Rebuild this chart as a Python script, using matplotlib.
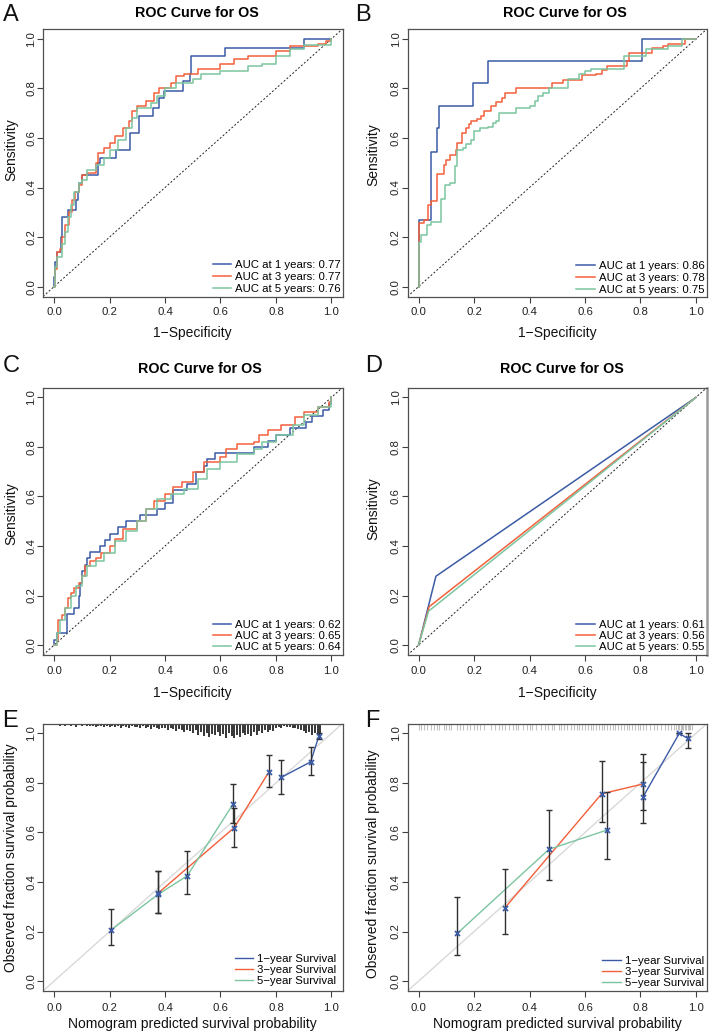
import matplotlib
matplotlib.use("Agg")
import matplotlib.pyplot as plt

plt.rcParams["font.family"] = ["Liberation Sans", "DejaVu Sans"]

BLUE = "#3b5ba5"
RED = "#f25f3a"
GREEN = "#7cc5a1"

tick_values = [0.0, 0.2, 0.4, 0.6, 0.8, 1.0]
tick_labels = ["0.0", "0.2", "0.4", "0.6", "0.8", "1.0"]

roc_names = ["AUC at 1 years", "AUC at 3 years", "AUC at 5 years"]
cal_names = ["1\u2212year Survival", "3\u2212year Survival", "5\u2212year Survival"]

# ---- panel A: ROC ----
auc_a = [0.77, 0.77, 0.76]
a1_fpr = [0, 0, 0.005, 0.01, 0.025, 0.03, 0.05, 0.08, 0.085, 0.09, 0.10, 0.16, 0.165, 0.225, 0.275,
          0.305, 0.355, 0.38, 0.395, 0.465, 0.49, 0.495, 0.615, 0.90, 1.0]
a1_tpr = [0, 0.04, 0.10, 0.14, 0.20, 0.28, 0.31, 0.35, 0.38, 0.42, 0.45, 0.50, 0.52, 0.55, 0.62,
          0.69, 0.72, 0.76, 0.79, 0.83, 0.86, 0.93, 0.965, 1.0, 1.0]
a3_fpr = [0, 0.005, 0.01, 0.02, 0.03, 0.04, 0.055, 0.065, 0.075, 0.09, 0.10, 0.12, 0.15, 0.16, 0.18,
          0.20, 0.22, 0.25, 0.27, 0.28, 0.30, 0.33, 0.36, 0.38, 0.42, 0.44, 0.47, 0.52, 0.60, 0.65,
          0.70, 0.80, 0.85, 0.95, 0.98, 1.0]
a3_tpr = [0, 0.07, 0.14, 0.15, 0.20, 0.25, 0.30, 0.35, 0.38, 0.41, 0.45, 0.46, 0.50, 0.54, 0.56,
          0.58, 0.61, 0.64, 0.67, 0.71, 0.73, 0.75, 0.78, 0.80, 0.82, 0.85, 0.86, 0.88, 0.90, 0.92,
          0.93, 0.95, 0.97, 0.98, 0.99, 1.0]
a5_fpr = [0, 0.005, 0.01, 0.03, 0.04, 0.05, 0.06, 0.07, 0.09, 0.10, 0.12, 0.15, 0.18, 0.20, 0.23,
          0.26, 0.28, 0.30, 0.35, 0.37, 0.40, 0.44, 0.50, 0.53, 0.60, 0.70, 0.75, 0.80, 0.85, 0.90, 1.0]
a5_tpr = [0, 0.08, 0.12, 0.17, 0.22, 0.28, 0.33, 0.38, 0.42, 0.43, 0.47, 0.49, 0.52, 0.55, 0.59,
          0.64, 0.68, 0.72, 0.74, 0.77, 0.80, 0.82, 0.84, 0.86, 0.87, 0.89, 0.90, 0.93, 0.96, 0.975, 1.0]

# ---- panel B: ROC ----
auc_b = [0.86, 0.78, 0.75]
b1_fpr = [0, 0, 0.045, 0.065, 0.075, 0.195, 0.25, 0.805, 1.0]
b1_tpr = [0, 0.27, 0.545, 0.64, 0.73, 0.82, 0.91, 1.0, 1.0]
b3_fpr = [0, 0, 0, 0.02, 0.035, 0.045, 0.065, 0.09, 0.10, 0.115, 0.135, 0.14, 0.155, 0.17, 0.18,
          0.19, 0.21, 0.225, 0.235, 0.26, 0.28, 0.30, 0.31, 0.35, 0.48, 0.52, 0.59, 0.64, 0.66,
          0.68, 0.75, 0.76, 0.84, 0.88, 0.90, 0.96, 1.0]
b3_tpr = [0, 0.18, 0.255, 0.27, 0.33, 0.345, 0.455, 0.49, 0.51, 0.53, 0.55, 0.58, 0.62, 0.64, 0.655,
          0.67, 0.675, 0.69, 0.71, 0.73, 0.745, 0.76, 0.78, 0.80, 0.82, 0.835, 0.855, 0.86, 0.875,
          0.89, 0.91, 0.945, 0.965, 0.97, 0.98, 1.0, 1.0]
b5_fpr = [0, 0, 0.01, 0.03, 0.045, 0.08, 0.095, 0.115, 0.13, 0.14, 0.16, 0.17, 0.19, 0.20, 0.22,
          0.25, 0.27, 0.28, 0.29, 0.35, 0.40, 0.42, 0.43, 0.45, 0.47, 0.54, 0.58, 0.60, 0.62, 0.74,
          0.82, 0.90, 0.95, 1.0]
b5_tpr = [0, 0.18, 0.21, 0.25, 0.26, 0.355, 0.41, 0.42, 0.485, 0.55, 0.56, 0.575, 0.59, 0.63, 0.64,
          0.645, 0.66, 0.67, 0.70, 0.72, 0.73, 0.75, 0.77, 0.78, 0.80, 0.84, 0.86, 0.87, 0.88, 0.93,
          0.96, 0.97, 1.0, 1.0]

# ---- panel C: ROC ----
auc_c = [0.62, 0.65, 0.64]
c1_fpr = [0, 0, 0.01, 0.045, 0.07, 0.09, 0.095, 0.10, 0.11, 0.12, 0.13, 0.165, 0.185, 0.20, 0.23,
          0.26, 0.31, 0.37, 0.40, 0.43, 0.48, 0.51, 0.54, 0.55, 0.58, 0.72, 0.77, 0.80, 0.85, 0.91,
          0.93, 0.97, 0.99, 1.0]
c1_tpr = [0, 0.02, 0.05, 0.125, 0.15, 0.20, 0.25, 0.30, 0.325, 0.35, 0.375, 0.40, 0.425, 0.45, 0.475,
          0.50, 0.525, 0.55, 0.575, 0.625, 0.65, 0.70, 0.725, 0.75, 0.775, 0.80, 0.825, 0.85, 0.875,
          0.90, 0.925, 0.95, 0.975, 1.0]
c3_fpr = [0, 0.01, 0.015, 0.03, 0.04, 0.05, 0.06, 0.07, 0.09, 0.10, 0.11, 0.13, 0.15, 0.17, 0.20,
          0.22, 0.25, 0.30, 0.33, 0.36, 0.40, 0.43, 0.46, 0.50, 0.54, 0.60, 0.62, 0.66, 0.72, 0.74,
          0.77, 0.82, 0.87, 0.90, 0.95, 0.99, 1.0]
c3_tpr = [0, 0.02, 0.10, 0.12, 0.15, 0.19, 0.21, 0.23, 0.25, 0.28, 0.32, 0.34, 0.35, 0.37, 0.40,
          0.43, 0.47, 0.50, 0.55, 0.58, 0.61, 0.64, 0.66, 0.70, 0.74, 0.76, 0.79, 0.81, 0.82, 0.85,
          0.87, 0.89, 0.92, 0.94, 0.96, 0.98, 1.0]
c5_fpr = [0, 0.01, 0.02, 0.04, 0.06, 0.08, 0.10, 0.12, 0.15, 0.18, 0.22, 0.26, 0.30, 0.33, 0.37,
          0.42, 0.47, 0.52, 0.55, 0.60, 0.66, 0.72, 0.75, 0.80, 0.86, 0.90, 0.95, 1.0]
c5_tpr = [0, 0.05, 0.10, 0.15, 0.20, 0.24, 0.28, 0.32, 0.34, 0.37, 0.42, 0.46, 0.50, 0.55, 0.59,
          0.61, 0.63, 0.67, 0.71, 0.74, 0.77, 0.79, 0.82, 0.85, 0.89, 0.93, 0.96, 1.0]

# ---- panel D: ROC (single cut point) ----
auc_d = [0.61, 0.56, 0.55]
d1_fpr = [0, 0.0625, 1.0]
d1_tpr = [0, 0.278, 1.0]
d3_fpr = [0, 0.038, 1.0]
d3_tpr = [0, 0.155, 1.0]
d5_fpr = [0, 0.036, 1.0]
d5_tpr = [0, 0.137, 1.0]

# ---- panel E: calibration ----
e1_pred = [0.82, 0.925, 0.955]
e1_obs = [0.823, 0.885, 0.99]
e1_lo = [0.756, 0.834, 0.977]
e1_hi = [0.891, 0.945, 1.0]
e3_pred = [0.375, 0.65, 0.775]
e3_obs = [0.355, 0.62, 0.845]
e3_lo = [0.275, 0.543, 0.784]
e3_hi = [0.445, 0.70, 0.912]
e5_pred = [0.205, 0.375, 0.48, 0.645]
e5_obs = [0.206, 0.35, 0.425, 0.714]
e5_lo = [0.146, 0.275, 0.351, 0.64]
e5_hi = [0.29, 0.445, 0.525, 0.797]

# distribution of predicted values (spikes hanging from the top)
e_rug_x = [0.00, 0.01, 0.02, 0.03, 0.04, 0.05, 0.06, 0.07, 0.08, 0.09,
           0.10, 0.11, 0.12, 0.13, 0.14, 0.15, 0.16, 0.17, 0.18, 0.19,
           0.20, 0.21, 0.22, 0.23, 0.24, 0.25, 0.26, 0.27, 0.28, 0.29,
           0.30, 0.31, 0.32, 0.33, 0.34, 0.35, 0.36, 0.37, 0.38, 0.39,
           0.40, 0.41, 0.42, 0.43, 0.44, 0.45, 0.46, 0.47, 0.48, 0.49,
           0.50, 0.51, 0.52, 0.53, 0.54, 0.55, 0.56, 0.57, 0.58, 0.59,
           0.60, 0.61, 0.62, 0.63, 0.64, 0.65, 0.66, 0.67, 0.68, 0.69,
           0.70, 0.71, 0.72, 0.73, 0.74, 0.75, 0.76, 0.77, 0.78, 0.79,
           0.80, 0.81, 0.82, 0.83, 0.84, 0.85, 0.86, 0.87, 0.88, 0.89,
           0.90, 0.91, 0.92, 0.93, 0.94, 0.95, 0.96]
e_rug_len = [0.008, 0.006, 0.010, 0.007, 0.012, 0.006, 0.009, 0.008, 0.014, 0.007,
             0.010, 0.008, 0.012, 0.009, 0.011, 0.014, 0.010, 0.012, 0.016, 0.011,
             0.013, 0.010, 0.015, 0.012, 0.018, 0.011, 0.014, 0.020, 0.012, 0.016,
             0.014, 0.018, 0.012, 0.020, 0.016, 0.022, 0.015, 0.019, 0.024, 0.017,
             0.020, 0.026, 0.018, 0.024, 0.030, 0.022, 0.028, 0.035, 0.025, 0.030,
             0.040, 0.028, 0.045, 0.034, 0.050, 0.038, 0.055, 0.042, 0.048, 0.036,
             0.052, 0.044, 0.058, 0.040, 0.050, 0.060, 0.046, 0.054, 0.038, 0.048,
             0.042, 0.050, 0.036, 0.045, 0.032, 0.040, 0.028, 0.035, 0.025, 0.030,
             0.020, 0.015, 0.018, 0.012, 0.016, 0.014, 0.020, 0.017, 0.022, 0.025,
             0.030, 0.040, 0.035, 0.045, 0.038, 0.048, 0.042]

# ---- panel F: calibration ----
f1_pred = [0.81, 0.94, 0.97]
f1_obs = [0.745, 1.0, 0.98]
f1_lo = [0.637, 1.0, 0.941]
f1_hi = [0.883, 1.0, 1.0]
f3_pred = [0.31, 0.66, 0.81]
f3_obs = [0.294, 0.756, 0.796]
f3_lo = [0.19, 0.643, 0.69]
f3_hi = [0.454, 0.887, 0.917]
f5_pred = [0.14, 0.47, 0.68]
f5_obs = [0.193, 0.532, 0.61]
f5_lo = [0.106, 0.409, 0.492]
f5_hi = [0.338, 0.69, 0.763]

f_rug_x = [0.0, 0.01, 0.02, 0.03, 0.045, 0.055, 0.065, 0.075, 0.09, 0.10, 0.11, 0.118,
           0.14, 0.15, 0.16, 0.175, 0.185, 0.20, 0.21, 0.22, 0.235,
           0.26, 0.275, 0.29, 0.30, 0.31, 0.325, 0.34, 0.35, 0.36, 0.375, 0.39, 0.40, 0.41,
           0.425, 0.44, 0.455, 0.465, 0.48, 0.49,
           0.505, 0.515, 0.525, 0.535, 0.55, 0.56, 0.57, 0.58, 0.59, 0.60, 0.61, 0.62, 0.63,
           0.64, 0.65, 0.66, 0.67, 0.68, 0.69, 0.70, 0.71, 0.72, 0.73, 0.74, 0.75, 0.76, 0.77,
           0.78, 0.79, 0.80, 0.81, 0.82, 0.835, 0.85, 0.86, 0.875, 0.89, 0.90, 0.91,
           0.92, 0.93, 0.935, 0.94, 0.945, 0.95, 0.955, 0.96, 0.965, 0.97, 0.975, 0.98, 0.985]

W, H = 709, 1036
AX_W, AX_H = 299.5, 267.5
fig = plt.figure(figsize=(W / 100, H / 100), dpi=100)


def add_axes(left, top):
    return fig.add_axes([left / W, 1 - (top + AX_H) / H, AX_W / W, AX_H / H])


def px_text(x, y, s, **kw):
    fig.text(x / W, 1 - y / H, s, **kw)


def frame(ax, xlabel, ylabel, ylab_off, ylab_y, xlab_off, xpad):
    ax.set_xlim(-0.04, 1.04)
    ax.set_ylim(-0.04, 1.04)
    ax.set_xticks(tick_values, tick_labels)
    ax.set_yticks(tick_values, tick_labels)
    ax.tick_params(direction="out", length=4, width=0.8, color="#404040",
                   labelsize=8.2, labelcolor="#222222")
    ax.tick_params(axis="x", pad=xpad)
    ax.tick_params(axis="y", pad=0.8, labelrotation=90)
    for lbl in ax.get_yticklabels():
        lbl.set_va("center")
    for sp in ax.spines.values():
        sp.set_color("#505050")
        sp.set_linewidth(0.9)
    ax.set_xlabel(xlabel, fontsize=10, color="#111111")
    ax.set_ylabel(ylabel, fontsize=10, color="#111111")
    ax.xaxis.set_label_coords(0.5, -xlab_off / AX_H)
    ax.yaxis.set_label_coords(-ylab_off / AX_W, ylab_y)


def legend(ax, anchor, spacing):
    ax.legend(loc="lower right", bbox_to_anchor=anchor, frameon=False, fontsize=8.2,
              handlelength=1.6, handletextpad=0.35, labelspacing=spacing,
              borderpad=0, borderaxespad=0)


def roc_panel(ax, curves, aucs, step=True):
    ax.plot([-0.04, 1.04], [-0.04, 1.04], color="#222222", lw=0.7, ls=(0, (2, 2)))
    for (fpr, tpr), color, name, auc in zip(curves, [BLUE, RED, GREEN], roc_names, aucs):
        ax.plot(fpr, tpr, color=color, lw=1.1, drawstyle="steps-post" if step else "default",
                label=f"{name}: {auc:.2f}")


def cal_panel(ax, series):
    ax.plot([-0.04, 1.04], [-0.04, 1.04], color="#d9d9d9", lw=1.0)
    for (pred, obs, lo, hi), color, name in zip(series, [BLUE, RED, GREEN], cal_names):
        ax.plot(pred, obs, color=color, lw=1.0, label=name)
    for pred, obs, lo, hi in series:
        ax.errorbar(pred, obs, yerr=[[o - l for o, l in zip(obs, lo)], [h - o for o, h in zip(obs, hi)]],
                    fmt="none", ecolor="#303030", elinewidth=1.0, capsize=2.3, capthick=1.0)
    for pred, obs, lo, hi in series:
        ax.plot(pred, obs, ls="none", marker="x", ms=3.6, mew=1.3, color=BLUE)


left_col, right_col = 43, 407.5
tops = [29, 387.5, 723.5]

ax_a = add_axes(left_col, tops[0])
ax_b = add_axes(right_col, tops[0])
ax_c = add_axes(left_col, tops[1])
ax_d = add_axes(right_col, tops[1])
ax_e = add_axes(left_col, tops[2])
ax_f = add_axes(right_col, tops[2])

spec = "1\u2212Specificity"
roc_panel(ax_a, [(a1_fpr, a1_tpr), (a3_fpr, a3_tpr), (a5_fpr, a5_tpr)], auc_a)
frame(ax_a, spec, "Sensitivity", 24.8, 0.548, 30, 3.9)
legend(ax_a, (0.994, 0.010), 0.16)

roc_panel(ax_b, [(b1_fpr, b1_tpr), (b3_fpr, b3_tpr), (b5_fpr, b5_tpr)], auc_b)
frame(ax_b, spec, "Sensitivity", 27, 0.529, 30, 3.9)
legend(ax_b, (0.991, 0.007), 0.16)

roc_panel(ax_c, [(c1_fpr, c1_tpr), (c3_fpr, c3_tpr), (c5_fpr, c5_tpr)], auc_c)
frame(ax_c, spec, "Sensitivity", 24.8, 0.53, 31, 3.9)
legend(ax_c, (0.994, 0.010), 0.1)

roc_panel(ax_d, [(d1_fpr, d1_tpr), (d3_fpr, d3_tpr), (d5_fpr, d5_tpr)], auc_d, step=False)
frame(ax_d, spec, "Sensitivity", 27, 0.548, 31, 3.9)
legend(ax_d, (0.991, 0.010), 0.1)
ax_d.spines["right"].set_color("#9a9a9a")
ax_d.spines["right"].set_linewidth(1.8)

ax_e.vlines(e_rug_x, [1.04 - v for v in e_rug_len], 1.04, color="#262626", lw=1.3)
cal_panel(ax_e, [(e1_pred, e1_obs, e1_lo, e1_hi), (e3_pred, e3_obs, e3_lo, e3_hi),
                 (e5_pred, e5_obs, e5_lo, e5_hi)])
frame(ax_e, "Nomogram predicted survival probability", "Observed fraction survival probability",
      25.3, 0.5, 25.7, 4.6)
legend(ax_e, (0.979, 0.017), 0.09)

ax_f.vlines(f_rug_x, 1.013, 1.037, color="#9a9a9a", lw=0.8, alpha=0.6)
cal_panel(ax_f, [(f1_pred, f1_obs, f1_lo, f1_hi), (f3_pred, f3_obs, f3_lo, f3_hi),
                 (f5_pred, f5_obs, f5_lo, f5_hi)])
frame(ax_f, "Nomogram predicted survival probability", "Observed fraction survival probability",
      27, 0.475, 25.7, 4.6)
legend(ax_f, (0.989, 0.011), 0.09)

# panel titles and letters
for x, y in [(197, 16.7), (565, 16.7), (200, 373.3), (562, 373.3)]:
    px_text(x, y, "ROC Curve for OS", ha="center", va="baseline", fontsize=10.3, fontweight="bold")
for s, x, y in [("A", 2.5, 20.7), ("B", 355.5, 20.7), ("C", 3, 371.7), ("D", 365.5, 371.7),
                ("E", 2.5, 727.3), ("F", 365.5, 727.3)]:
    px_text(x, y, s, ha="left", va="baseline", fontsize=17, color="#111111")

fig.savefig("out.png", dpi=100)
